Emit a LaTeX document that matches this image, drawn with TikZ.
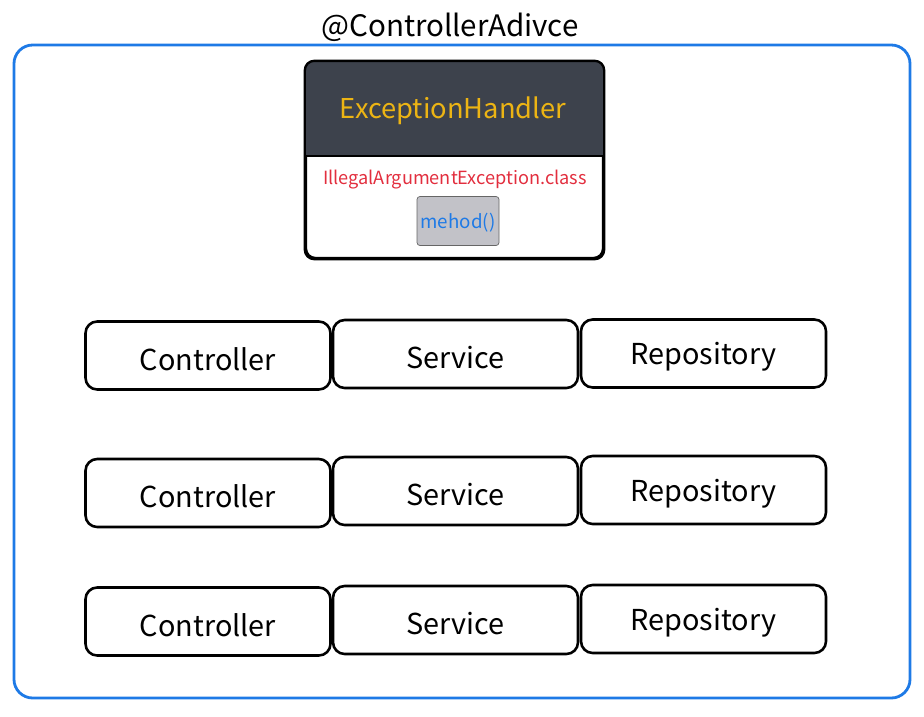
\documentclass[tikz,border=0pt]{standalone}
\usepackage{fontspec}
\setmainfont{Noto Sans CJK KR}
\definecolor{adviceblue}{RGB}{30,122,230}
\definecolor{headgray}{RGB}{61,66,76}
\definecolor{headyellow}{RGB}{236,180,20}
\definecolor{classred}{RGB}{226,46,62}
\definecolor{methodgray}{RGB}{194,194,200}
\begin{document}
\begin{tikzpicture}[x=0.03cm,y=-0.03cm,
    layerbox/.style={draw=black,line width=2.2pt,rounded corners=10pt,minimum width=7.35cm,minimum height=2.04cm,font=\fontsize{24.6}{28}\selectfont},
    layertext/.style={yshift=-3pt},
    handlerbox/.style={draw=black,line width=2pt,rounded corners=8pt,minimum width=8.91cm,minimum height=5.88cm},
    methodbox/.style={draw=black!60,fill=methodgray,line width=0.6pt,rounded corners=2.5pt,minimum width=2.46cm,minimum height=1.47cm,text=adviceblue,font=\fontsize{16}{18}\selectfont}]
    \useasboundingbox (0,0) rectangle (924,716);
    \node[draw=adviceblue,line width=2.4pt,rounded corners=16pt,minimum width=26.88cm,minimum height=19.59cm] (advice) at (462,371.5) {};
    \node[font=\fontsize{25.2}{28}\selectfont] (title) at (450,27.5) {@ControllerAdivce};
    % exception handler
    \node[handlerbox] (handler) at (454.5,160) {};
    \fill[headgray] (306,156) {[rounded corners=8pt] -- (handler.north west) -- (handler.north east)} -- (603,156) -- cycle;
    \draw[line width=2pt] (306,156) -- (603,156);
    \draw[line width=2pt,rounded corners=8pt] (handler.north west) rectangle (handler.south east);
    \node[text=headyellow,font=\fontsize{23.3}{26}\selectfont] (handlername) at (453,111) {ExceptionHandler};
    \node[text=classred,font=\fontsize{15.5}{18}\selectfont] (exclass) at (455,180) {IllegalArgumentException.class};
    \node[methodbox] (method) at (458,221) {};
    \node[text=adviceblue,font=\fontsize{16}{18}\selectfont] (methodname) at (458,223) {mehod()};
    % layers
    \node[layerbox] (ctrl1) at (208,355.5) {};
    \node[layerbox] (svc1) at (455.5,354) {};
    \node[layerbox] (repo1) at (703.5,353.5) {};
    \node[layerbox] (ctrl2) at (208,493) {};
    \node[layerbox] (svc2) at (455.5,491) {};
    \node[layerbox] (repo2) at (703.5,490) {};
    \node[layerbox] (ctrl3) at (208,621.5) {};
    \node[layerbox] (svc3) at (455.5,620) {};
    \node[layerbox] (repo3) at (703.5,619) {};
    \foreach \n/\t in {ctrl1/Controller,svc1/Service,repo1/Repository,ctrl2/Controller,svc2/Service,repo2/Repository,ctrl3/Controller,svc3/Service,repo3/Repository}
      \node[layertext,font=\fontsize{24.6}{28}\selectfont] (\n-label) at (\n) {\t};
\end{tikzpicture}
\end{document}
